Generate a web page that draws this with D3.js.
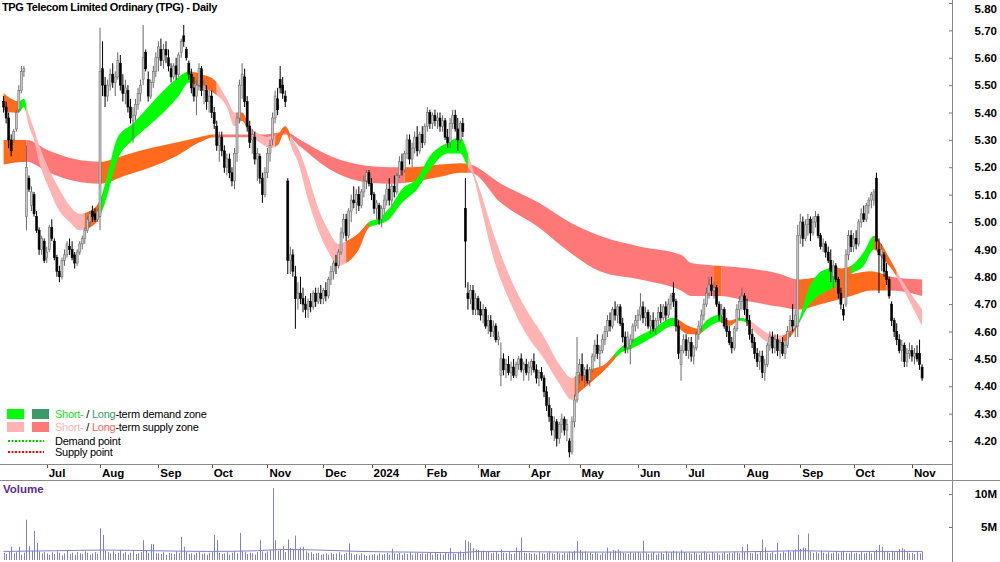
<!DOCTYPE html>
<html>
<head>
<meta charset="utf-8">
<script src="https://cdn.jsdelivr.net/npm/d3@7"></script>
<style>
body { margin: 0; background: #fff; }
svg { display: block; font-family: "Liberation Sans", Arial, sans-serif; }
</style>
</head>
<body>
<div id="chart"></div>
<script>
// trading calendar
const startDate = "2023-06-07";
const endDate = "2024-11-07";
const holidays = ["2023-06-12", "2023-12-25", "2023-12-26", "2024-01-01", "2024-01-26",
  "2024-03-29", "2024-04-01", "2024-04-25", "2024-06-10"];

// daily prices, one row per month
const opens = [
  5.44,5.42,5.38,5.30,5.30,5.34,5.41,5.48,5.55,5.02,5.16,5.06,5.10,5.02,4.97,4.90,4.93,
  4.87,4.90,4.98,4.93,4.87,4.82,4.80,4.86,4.88,4.91,4.90,4.88,4.85,4.89,4.92,4.94,4.97,5.00,5.04,5.03,5.01,
  5.02,5.56,5.50,5.46,5.50,5.54,5.51,5.53,5.58,5.50,5.47,5.48,5.42,5.37,5.39,5.43,5.47,5.52,5.62,5.52,5.46,5.51,5.55,
  5.60,5.63,5.59,5.63,5.60,5.56,5.53,5.57,5.54,5.62,5.68,5.63,5.58,5.54,5.49,5.46,5.50,5.56,5.48,5.48,5.44,
  5.46,5.40,5.35,5.28,5.31,5.26,5.20,5.23,5.18,5.15,5.25,5.38,5.50,5.53,5.44,5.35,5.30,5.31,5.23,5.24,5.16,5.10,
  5.18,5.25,5.30,5.38,5.45,5.52,5.50,5.46,5.15,4.86,4.88,4.80,4.72,4.74,4.72,4.70,4.68,4.71,4.69,4.74,4.71,4.74,
  4.72,4.75,4.73,4.79,4.82,4.85,4.84,4.89,4.96,5.01,4.95,5.04,5.08,5.07,5.10,5.06,5.11,5.15,5.18,
  5.14,5.10,5.05,5.06,5.01,5.05,5.08,5.12,5.08,5.13,5.11,5.17,5.22,5.19,5.25,5.30,5.23,5.27,5.31,5.26,5.32,
  5.29,5.35,5.40,5.36,5.39,5.37,5.38,5.35,5.37,5.31,5.29,5.36,5.39,5.34,5.30,5.36,5.05,4.74,4.72,4.75,4.68,
  4.72,4.68,4.66,4.68,4.62,4.64,4.60,4.62,4.57,4.44,4.50,4.46,4.48,4.45,4.47,4.44,4.48,4.50,4.46,4.48,
  4.45,4.47,4.49,4.46,4.43,4.45,4.43,4.38,4.33,4.29,4.24,4.27,4.21,4.26,4.28,4.24,4.20,4.16,4.27,4.35,
  4.45,4.48,4.44,4.46,4.42,4.46,4.51,4.55,4.52,4.53,4.57,4.60,4.64,4.62,4.68,4.66,4.69,4.63,4.58,4.54,4.55,4.57,4.62,
  4.64,4.66,4.69,4.65,4.67,4.62,4.64,4.61,4.64,4.67,4.65,4.69,4.66,4.70,4.74,4.71,4.62,4.48,4.53,
  4.57,4.53,4.56,4.51,4.54,4.59,4.62,4.66,4.70,4.74,4.77,4.75,4.76,4.70,4.66,4.68,4.62,4.60,4.56,4.54,4.61,4.68,4.71,
  4.73,4.68,4.64,4.59,4.56,4.52,4.49,4.51,4.45,4.48,4.55,4.58,4.54,4.57,4.53,4.56,4.52,4.55,4.60,4.64,4.62,4.62,
  4.95,5.00,4.94,4.99,5.01,4.96,5.00,5.02,4.95,4.91,4.92,4.89,4.86,4.80,4.84,4.79,4.74,4.68,4.70,4.88,4.95,
  4.91,4.94,4.92,5.00,5.03,5.01,5.06,5.08,5.08,5.16,4.90,4.88,4.88,4.82,4.79,4.70,4.64,4.60,4.57,4.53,4.55,4.49,4.52,
  4.53,4.51,4.52,4.52,4.47
];
const highs = [
  5.46,5.44,5.40,5.32,5.34,5.41,5.50,5.57,5.57,5.28,5.17,5.13,5.11,5.04,4.98,4.95,4.94,
  4.91,4.99,5.01,4.94,4.88,4.84,4.87,4.90,4.93,4.94,4.93,4.89,4.90,4.93,4.95,4.98,5.02,5.04,5.06,5.05,5.05,
  5.71,5.66,5.53,5.52,5.56,5.58,5.55,5.62,5.61,5.54,5.52,5.50,5.45,5.42,5.45,5.49,5.52,5.72,5.63,5.55,5.52,5.57,5.62,
  5.66,5.67,5.65,5.66,5.63,5.58,5.58,5.60,5.62,5.67,5.72,5.64,5.59,5.56,5.53,5.52,5.58,5.57,5.52,5.50,5.48,
  5.48,5.42,5.37,5.33,5.33,5.28,5.25,5.25,5.20,5.27,5.40,5.52,5.58,5.56,5.46,5.37,5.34,5.33,5.27,5.25,5.18,5.20,
  5.27,5.30,5.40,5.48,5.49,5.57,5.53,5.48,5.16,4.91,4.90,4.84,4.78,4.80,4.76,4.73,4.72,4.74,4.75,4.76,4.76,4.77,
  4.76,4.78,4.80,4.84,4.86,4.88,4.90,4.98,5.03,5.03,5.05,5.10,5.13,5.12,5.13,5.12,5.17,5.19,5.19,
  5.16,5.11,5.08,5.07,5.06,5.10,5.14,5.16,5.14,5.17,5.18,5.24,5.25,5.26,5.32,5.32,5.29,5.33,5.35,5.33,5.35,
  5.36,5.42,5.41,5.40,5.41,5.40,5.40,5.39,5.38,5.34,5.38,5.41,5.41,5.38,5.37,5.38,5.16,4.78,4.77,4.77,4.74,
  4.73,4.71,4.70,4.69,4.66,4.66,4.64,4.63,4.60,4.56,4.52,4.50,4.51,4.49,4.50,4.49,4.51,4.52,4.49,4.50,
  4.49,4.50,4.52,4.48,4.46,4.47,4.44,4.40,4.36,4.32,4.29,4.28,4.27,4.30,4.29,4.28,4.21,4.29,4.37,4.58,
  4.50,4.52,4.47,4.48,4.47,4.52,4.57,4.59,4.55,4.59,4.62,4.66,4.67,4.69,4.71,4.70,4.70,4.65,4.60,4.60,4.59,4.63,4.66,
  4.68,4.74,4.71,4.69,4.68,4.66,4.67,4.65,4.69,4.70,4.70,4.71,4.72,4.74,4.78,4.72,4.64,4.55,4.59,
  4.59,4.58,4.58,4.55,4.60,4.64,4.68,4.72,4.76,4.80,4.80,4.78,4.77,4.71,4.70,4.69,4.65,4.62,4.58,4.62,4.70,4.73,4.76,
  4.74,4.72,4.66,4.61,4.58,4.54,4.53,4.53,4.50,4.56,4.60,4.60,4.59,4.59,4.57,4.58,4.57,4.62,4.66,4.70,4.68,4.99,
  5.03,5.02,5.01,5.03,5.02,5.02,5.04,5.03,4.96,4.94,4.93,4.91,4.90,4.86,4.85,4.80,4.76,4.70,4.90,4.97,4.97,
  4.96,4.97,5.01,5.05,5.06,5.07,5.09,5.11,5.12,5.18,4.94,4.92,4.89,4.85,4.80,4.71,4.65,4.63,4.59,4.57,4.56,4.54,4.56,
  4.55,4.54,4.55,4.57,4.48
];
const lows = [
  5.40,5.36,5.27,5.24,5.29,5.33,5.40,5.47,5.53,4.97,5.11,5.04,5.02,4.96,4.88,4.88,4.85,
  4.85,4.89,4.93,4.86,4.80,4.78,4.79,4.84,4.87,4.88,4.86,4.83,4.84,4.88,4.90,4.92,4.96,4.98,5.00,5.00,5.00,
  4.97,5.46,5.42,5.44,5.48,5.49,5.46,5.52,5.48,5.44,5.43,5.40,5.36,5.29,5.37,5.41,5.44,5.50,5.55,5.44,5.45,5.49,5.53,
  5.55,5.57,5.56,5.58,5.55,5.51,5.52,5.52,5.53,5.60,5.64,5.59,5.52,5.47,5.44,5.39,5.48,5.46,5.43,5.41,5.40,
  5.38,5.34,5.26,5.22,5.24,5.18,5.17,5.16,5.13,5.12,5.22,5.36,5.45,5.42,5.33,5.27,5.25,5.21,5.15,5.14,5.07,5.09,
  5.16,5.22,5.28,5.36,5.39,5.47,5.45,5.42,4.81,4.81,4.80,4.61,4.68,4.70,4.67,4.65,4.65,4.67,4.68,4.69,4.70,4.70,
  4.70,4.71,4.72,4.77,4.79,4.81,4.83,4.88,4.94,4.93,4.94,5.00,5.05,5.03,5.04,5.05,5.09,5.12,5.13,
  5.08,5.03,5.01,4.99,4.98,5.03,5.06,5.06,5.06,5.09,5.10,5.16,5.17,5.18,5.23,5.21,5.20,5.25,5.24,5.25,5.27,
  5.28,5.33,5.34,5.34,5.35,5.34,5.33,5.33,5.30,5.27,5.27,5.34,5.33,5.26,5.29,5.31,4.76,4.68,4.70,4.66,4.66,
  4.66,4.64,4.63,4.61,4.59,4.58,4.58,4.56,4.55,4.40,4.44,4.43,4.44,4.42,4.43,4.43,4.46,4.45,4.42,4.44,
  4.42,4.44,4.45,4.41,4.40,4.42,4.36,4.31,4.27,4.22,4.20,4.18,4.19,4.23,4.22,4.20,4.14,4.15,4.25,4.34,
  4.41,4.42,4.40,4.41,4.40,4.45,4.49,4.50,4.47,4.52,4.55,4.58,4.60,4.61,4.64,4.63,4.62,4.56,4.52,4.52,4.48,4.56,4.60,
  4.61,4.64,4.63,4.62,4.61,4.59,4.60,4.59,4.62,4.63,4.64,4.64,4.65,4.68,4.69,4.60,4.50,4.42,4.52,
  4.51,4.50,4.49,4.48,4.53,4.57,4.60,4.64,4.69,4.72,4.73,4.72,4.69,4.64,4.63,4.61,4.58,4.55,4.52,4.53,4.60,4.64,4.68,
  4.66,4.62,4.57,4.54,4.50,4.47,4.46,4.43,4.42,4.47,4.53,4.52,4.52,4.51,4.50,4.51,4.50,4.54,4.58,4.60,4.58,4.58,
  4.92,4.91,4.93,4.95,4.93,4.95,4.98,4.94,4.90,4.89,4.87,4.85,4.78,4.76,4.78,4.72,4.68,4.64,4.69,4.86,4.89,
  4.89,4.90,4.91,4.98,5.00,5.00,5.03,5.05,5.06,4.90,4.74,4.82,4.80,4.77,4.72,4.62,4.58,4.55,4.52,4.49,4.47,4.47,4.50,
  4.49,4.48,4.49,4.46,4.42
];
const closes = [
  5.42,5.38,5.30,5.26,5.33,5.40,5.48,5.55,5.56,5.20,5.12,5.11,5.03,4.97,4.90,4.94,4.86,
  4.89,4.98,4.94,4.87,4.82,4.80,4.86,4.88,4.92,4.90,4.87,4.85,4.89,4.92,4.94,4.97,5.01,5.03,5.02,5.01,5.04,
  5.55,5.50,5.46,5.50,5.54,5.51,5.53,5.59,5.50,5.47,5.49,5.42,5.38,5.39,5.43,5.47,5.50,5.60,5.56,5.46,5.51,5.55,5.60,
  5.64,5.59,5.63,5.61,5.57,5.53,5.57,5.54,5.61,5.66,5.66,5.60,5.54,5.49,5.46,5.50,5.56,5.48,5.50,5.44,5.46,
  5.40,5.36,5.28,5.31,5.26,5.20,5.23,5.18,5.15,5.25,5.38,5.50,5.54,5.44,5.35,5.29,5.32,5.23,5.25,5.16,5.10,5.18,
  5.25,5.28,5.38,5.46,5.41,5.49,5.47,5.44,4.86,4.88,4.82,4.72,4.74,4.72,4.70,4.68,4.71,4.69,4.74,4.71,4.74,4.72,
  4.75,4.73,4.79,4.82,4.85,4.84,4.89,4.96,5.01,4.95,5.04,5.08,5.07,5.10,5.06,5.11,5.15,5.18,5.14,
  5.10,5.05,5.07,5.01,5.05,5.08,5.12,5.08,5.13,5.11,5.17,5.22,5.19,5.25,5.30,5.23,5.27,5.31,5.26,5.32,5.29,
  5.35,5.40,5.36,5.39,5.37,5.38,5.35,5.37,5.31,5.29,5.36,5.39,5.34,5.30,5.36,5.33,4.93,4.72,4.75,4.68,4.72,
  4.68,4.66,4.68,4.62,4.64,4.60,4.62,4.57,4.58,4.50,4.46,4.48,4.45,4.47,4.44,4.48,4.50,4.46,4.48,4.45,
  4.47,4.49,4.46,4.43,4.45,4.43,4.38,4.33,4.29,4.24,4.27,4.21,4.26,4.28,4.24,4.26,4.16,4.27,4.35,4.45,
  4.48,4.44,4.46,4.42,4.46,4.51,4.55,4.52,4.53,4.57,4.60,4.64,4.62,4.68,4.66,4.69,4.63,4.58,4.54,4.58,4.57,4.62,4.64,
  4.66,4.69,4.65,4.67,4.62,4.64,4.61,4.64,4.67,4.65,4.69,4.66,4.70,4.73,4.71,4.62,4.52,4.53,4.57,
  4.53,4.56,4.51,4.54,4.59,4.62,4.66,4.70,4.74,4.77,4.75,4.76,4.70,4.66,4.68,4.62,4.60,4.56,4.54,4.61,4.68,4.71,4.73,
  4.68,4.64,4.59,4.56,4.52,4.49,4.51,4.45,4.48,4.55,4.58,4.54,4.57,4.53,4.56,4.52,4.55,4.60,4.64,4.62,4.66,4.95,
  5.00,4.94,4.99,5.01,4.96,5.00,5.02,4.95,4.91,4.92,4.89,4.86,4.82,4.84,4.79,4.74,4.70,4.66,4.88,4.95,4.91,
  4.94,4.92,5.00,5.03,5.01,5.06,5.08,5.10,5.11,4.93,4.88,4.90,4.82,4.79,4.73,4.64,4.60,4.57,4.53,4.55,4.49,4.52,4.53,
  4.51,4.52,4.50,4.48,4.43
];
// volume in millions
const volumes = [
  1.1,0.9,1.3,2.0,1.0,1.2,2.0,0.8,1.1,6.1,2.1,1.4,4.4,2.6,1.3,1.0,1.2,
  1.0,0.8,1.2,0.9,1.3,1.1,0.7,1.0,1.4,0.9,1.1,0.8,1.2,1.0,0.9,1.3,1.1,0.8,1.0,1.2,0.9,
  4.8,3.8,1.4,1.2,1.0,1.3,0.9,1.1,1.5,1.0,1.2,0.8,1.1,1.3,0.9,1.0,1.2,3.0,1.4,1.1,2.4,2.4,1.0,
  1.0,0.9,1.2,0.8,1.1,1.0,0.9,1.3,1.1,3.5,2.0,1.2,0.9,1.0,0.8,1.1,1.2,0.9,1.0,0.8,1.1,
  1.2,3.8,3.0,1.1,0.9,1.0,1.2,0.8,1.1,1.3,1.0,4.1,1.4,1.2,0.9,1.1,1.0,0.8,1.2,3.0,1.3,1.1,
  1.3,1.5,10.9,3.0,1.4,1.6,2.1,1.2,3.1,1.8,1.5,3.7,1.6,1.9,2.0,1.3,1.1,1.2,0.9,1.0,1.1,0.8,
  0.9,1.0,0.8,1.1,0.9,1.0,1.2,0.8,0.9,1.1,2.5,1.0,0.8,0.9,0.7,1.0,0.8,0.6,0.7,
  0.8,0.9,0.7,1.0,0.8,0.9,1.1,0.8,1.7,1.0,0.9,1.1,0.8,1.0,0.9,1.2,0.8,1.0,1.1,0.9,1.0,
  0.9,1.0,1.2,0.8,1.1,0.9,1.0,0.8,1.2,1.0,1.8,1.0,0.9,1.1,1.3,1.0,3.0,2.8,2.6,1.8,1.6,
  1.5,1.3,1.4,1.2,1.3,1.0,1.1,1.2,0.9,1.6,1.1,1.0,1.2,0.9,1.0,1.9,1.2,3.4,1.1,1.0,
  1.1,0.9,1.0,0.8,1.2,1.0,0.9,1.1,1.3,1.0,0.9,1.2,1.0,0.8,1.1,1.0,1.3,1.2,1.4,2.9,
  1.5,1.2,1.3,1.0,1.1,0.9,1.2,1.0,0.8,1.1,1.0,1.9,1.2,1.5,1.4,1.6,1.3,1.1,1.0,0.9,1.2,1.0,1.1,
  1.2,1.0,2.9,1.1,0.9,1.0,1.2,0.8,1.0,1.1,0.9,1.3,1.0,1.2,1.4,1.3,1.1,1.5,1.2,
  1.0,1.1,0.9,1.2,1.0,0.8,1.1,1.3,1.0,0.9,1.2,1.0,1.1,0.8,1.0,1.2,0.9,1.1,1.0,1.3,1.1,1.0,2.0,
  1.2,2.4,1.1,1.0,1.3,0.9,1.2,3.1,1.9,1.1,1.0,1.2,0.9,2.6,1.0,1.3,1.1,1.5,1.2,1.4,1.6,3.8,
  1.7,1.9,1.8,4.0,1.3,1.1,1.2,1.0,1.4,1.1,0.9,1.2,1.0,1.1,1.3,1.0,1.2,1.4,1.1,1.0,1.2,
  1.0,1.1,0.9,1.2,1.0,1.1,1.3,1.0,1.2,1.5,2.3,2.0,1.3,1.2,1.1,1.4,1.2,1.3,1.7,1.8,1.6,1.2,1.0,
  1.1,0.9,1.2,1.0,1.3
];
// volume average line (bar index, millions)
const volAvgIdx = [0, 20, 40, 60, 80, 100, 110, 125, 140, 160, 180, 187, 200, 220, 240, 260, 280, 300, 315, 330, 345, 362];
const volAvg = [1.3, 1.4, 1.5, 1.4, 1.3, 1.4, 1.6, 1.5, 1.3, 1.2, 1.1, 1.3, 1.3, 1.2, 1.2, 1.2, 1.2, 1.3, 1.4, 1.3, 1.3, 1.3];

// short-term band edges, sampled at bar index
const shortIdx = [0,3,6,8,10,12,14,18,22,26,30,34,38,40,45,51,57,63,69,73,78,83,88,91,94,97,101,105,108,111,114,116,120,124,128,132,135,140,144,147,152,157,163,168,175,180,183,185,188,193,200,206,213,219,224,226,231,237,240,243,248,256,264,270,274,277,282,286,290,293,297,302,306,310,313,317,321,325,327,330,334,339,343,346,349,352,356,362];
const shortTop = [5.47,5.45,5.44,5.45,5.39,5.34,5.28,5.19,5.12,5.06,5.03,5.04,5.08,5.14,5.31,5.36,5.42,5.48,5.53,5.55,5.54,5.52,5.45,5.40,5.40,5.35,5.32,5.31,5.32,5.35,5.30,5.27,5.17,5.05,4.97,4.92,4.93,4.96,5.00,5.01,5.05,5.12,5.16,5.24,5.29,5.31,5.25,5.19,5.11,4.96,4.79,4.68,4.58,4.48,4.43,4.44,4.46,4.48,4.51,4.54,4.57,4.61,4.65,4.62,4.61,4.64,4.66,4.64,4.65,4.645,4.62,4.59,4.585,4.60,4.63,4.75,4.81,4.83,4.84,4.83,4.84,4.89,4.95,4.92,4.87,4.82,4.76,4.68];
const shortBot = [5.41,5.40,5.40,5.42,5.35,5.30,5.22,5.12,5.04,5.00,4.97,4.98,5.02,5.07,5.23,5.30,5.35,5.40,5.46,5.51,5.49,5.47,5.42,5.35,5.37,5.32,5.29,5.27,5.28,5.33,5.26,5.22,5.08,4.97,4.89,4.84,4.85,4.90,4.98,4.99,5.01,5.07,5.12,5.19,5.25,5.25,5.20,5.17,5.06,4.87,4.70,4.59,4.50,4.41,4.35,4.37,4.41,4.46,4.49,4.52,4.54,4.58,4.62,4.59,4.59,4.61,4.635,4.62,4.64,4.63,4.59,4.56,4.56,4.58,4.62,4.69,4.73,4.75,4.76,4.78,4.81,4.84,4.90,4.87,4.84,4.80,4.73,4.62];
// short-term band state: [from, to, zone]
const shortZones = [[0,6,"neutral"],[6,9,"demand"],[9,32,"supply"],[32,38,"neutral"],[38,74,"demand"],[74,84,"neutral"],[84,93,"supply"],[93,96,"neutral"],[96,107,"supply"],[107,113,"neutral"],[113,135,"supply"],[135,144,"neutral"],[144,183,"demand"],[183,225,"supply"],[225,241,"neutral"],[241,265,"demand"],[265,275,"neutral"],[275,283,"demand"],[283,289,"neutral"],[289,293,"demand"],[293,294,"neutral"],[294,307,"supply"],[307,313,"neutral"],[313,328,"demand"],[328,334,"neutral"],[334,343,"demand"],[343,352,"neutral"],[352,362,"supply"]];

// long-term band edges
const longIdx = [0,9,18,28,38,48,58,68,77,83,93,103,111,117,129,140,152,160,172,180,184,196,211,223,235,251,267,271,282,294,306,313,322,334,342,350,362];
const longTop = [5.30,5.30,5.26,5.23,5.22,5.245,5.27,5.29,5.31,5.32,5.32,5.32,5.33,5.30,5.24,5.21,5.20,5.20,5.21,5.215,5.21,5.14,5.07,5.00,4.95,4.91,4.88,4.85,4.84,4.83,4.81,4.79,4.80,4.81,4.82,4.80,4.79];
const longBot = [5.21,5.22,5.18,5.15,5.14,5.17,5.20,5.24,5.29,5.31,5.31,5.31,5.32,5.275,5.19,5.15,5.14,5.145,5.165,5.18,5.18,5.07,4.98,4.89,4.82,4.79,4.75,4.73,4.73,4.71,4.69,4.68,4.70,4.73,4.75,4.75,4.73];
const longZones = [[0,9,"neutral"],[9,38,"supply"],[38,83,"neutral"],[83,158,"supply"],[158,183,"neutral"],[183,280,"supply"],[280,283,"neutral"],[283,313,"supply"],[313,348,"neutral"],[348,362,"supply"]];

const priceTicks = [4.2,4.3,4.4,4.5,4.6,4.7,4.8,4.9,5.0,5.1,5.2,5.3,5.4,5.5,5.6,5.7,5.8];
const volTicks = [5, 10];

const shortColor = { demand: "#00ff00", supply: "#ffb3b3", neutral: "#ff6a1c" };
const longColor = { demand: "#3a9a6a", supply: "#ff7878", neutral: "#ff6a1c" };

const W = 1000, H = 562, axisX = 952;

const parse = d3.utcParse("%Y-%m-%d");
const fmt = d3.utcFormat("%Y-%m-%d");
const dates = d3.utcDays(parse(startDate), d3.utcDay.offset(parse(endDate), 1))
  .filter(d => d.getUTCDay() % 6 !== 0 && !holidays.includes(fmt(d)));

const x = d3.scaleLinear().domain([0, closes.length - 1]).range([3.6, 922.1]);
const y = d3.scaleLinear().domain([4.2, 5.8]).range([441, 3]);
const yv = d3.scaleLinear().domain([0, 10]).range([560, 494]);

const svg = d3.select("#chart").append("svg")
  .attr("width", W).attr("height", H);

svg.append("rect").attr("width", W).attr("height", H).attr("fill", "#fff");

const defs = svg.append("defs");

// bands, one clip per zone segment
function drawBand(name, idx, top, bot, zones, colors) {
  const pts = idx.map((d, k) => ({ i: d, t: top[k], b: bot[k] }));
  const area = d3.area()
    .x(d => x(d.i)).y0(d => y(d.b)).y1(d => y(d.t))
    .curve(d3.curveMonotoneX);
  const g = svg.append("g");
  zones.forEach((z, k) => {
    const id = name + "clip" + k;
    const x0 = k === 0 ? 0 : x(z[0]);
    const x1 = k === zones.length - 1 ? x(z[1]) + 1 : x(z[1]);
    defs.append("clipPath").attr("id", id)
      .append("rect").attr("x", x0).attr("y", 0).attr("width", x1 - x0).attr("height", 462);
    g.append("path").datum(pts)
      .attr("d", area)
      .attr("fill", colors[z[2]])
      .attr("clip-path", "url(#" + id + ")");
  });
}
drawBand("long", longIdx, longTop, longBot, longZones, longColor);
drawBand("short", shortIdx, shortTop, shortBot, shortZones, shortColor);

// candles
const bars = closes.map((c, i) => ({ i: i, o: opens[i], h: highs[i], l: lows[i], c: c }));
const candles = svg.append("g");
candles.selectAll("line").data(bars).join("line")
  .attr("x1", d => x(d.i)).attr("x2", d => x(d.i))
  .attr("y1", d => y(d.h)).attr("y2", d => y(d.l))
  .attr("stroke", d => d.c >= d.o ? "#6a6a6a" : "#000")
  .attr("stroke-width", 1);
candles.selectAll("rect").data(bars).join("rect")
  .attr("x", d => x(d.i) - 1)
  .attr("width", 2)
  .attr("y", d => y(Math.max(d.o, d.c)))
  .attr("height", d => Math.max(1, Math.abs(y(d.o) - y(d.c))))
  .attr("fill", d => d.c >= d.o ? "#c8c8c8" : "#000")
  .attr("stroke", d => d.c >= d.o ? "#707070" : "#000")
  .attr("stroke-width", 0.6);

// date band
svg.append("line").attr("x1", 0).attr("x2", axisX).attr("y1", 464.5).attr("y2", 464.5)
  .attr("stroke", "#8a8a8a");
svg.append("line").attr("x1", 0).attr("x2", W).attr("y1", 480.5).attr("y2", 480.5)
  .attr("stroke", "#8a8a8a");
const monthStarts = dates.map((d, i) => ({ d: d, i: i }))
  .filter((o, k) => k > 0 && o.d.getUTCMonth() !== dates[k - 1].getUTCMonth());
const mg = svg.append("g");
mg.selectAll("line").data(monthStarts).join("line")
  .attr("x1", d => Math.round(x(d.i)) + 0.5).attr("x2", d => Math.round(x(d.i)) + 0.5)
  .attr("y1", 465).attr("y2", 468).attr("stroke", "#555");
mg.selectAll("text").data(monthStarts).join("text")
  .attr("x", d => x(d.i) + 2).attr("y", 477)
  .attr("font-size", 11.5).attr("font-weight", "bold").attr("fill", "#000")
  .text(d => d.d.getUTCMonth() === 0 ? d3.utcFormat("%Y")(d.d) : d3.utcFormat("%b")(d.d));

// price axis
const pAxis = svg.append("g").attr("transform", "translate(" + axisX + ",0)")
  .call(d3.axisRight(y).tickValues(priceTicks).tickFormat(d3.format(".2f"))
    .tickSizeInner(-3).tickSizeOuter(0));
pAxis.select(".domain").remove();
pAxis.selectAll(".tick line").attr("stroke", "#777");
pAxis.selectAll(".tick text").attr("x", 45).attr("text-anchor", "end")
  .attr("font-size", 11.5).attr("font-weight", "bold").attr("font-family", "Liberation Sans, Arial, sans-serif")
  .attr("fill", "#000")
  .attr("dy", d => d === 5.8 ? "0.85em" : "0.32em");

// volume axis
const vAxis = svg.append("g").attr("transform", "translate(" + axisX + ",0)")
  .call(d3.axisRight(yv).tickValues(volTicks).tickFormat(d => d + "M")
    .tickSizeInner(-3).tickSizeOuter(0));
vAxis.select(".domain").remove();
vAxis.selectAll(".tick line").attr("stroke", "#777");
vAxis.selectAll(".tick text").attr("x", 45).attr("text-anchor", "end")
  .attr("font-size", 11.5).attr("font-weight", "bold").attr("font-family", "Liberation Sans, Arial, sans-serif")
  .attr("fill", "#000");

svg.append("line").attr("x1", axisX + 0.5).attr("x2", axisX + 0.5).attr("y1", 0).attr("y2", H)
  .attr("stroke", "#8a8a8a");

// volume bars
const vol = svg.append("g");
vol.selectAll("line").data(volumes).join("line")
  .attr("x1", (d, i) => Math.round(x(i)) + 0.5).attr("x2", (d, i) => Math.round(x(i)) + 0.5)
  .attr("y1", yv(0)).attr("y2", d => yv(d))
  .attr("stroke", "#8080d0").attr("stroke-width", 1);
vol.append("path")
  .datum(volAvgIdx.map((d, k) => [d, volAvg[k]]))
  .attr("d", d3.line().x(d => x(d[0])).y(d => yv(d[1])).curve(d3.curveMonotoneX))
  .attr("fill", "none").attr("stroke", "#8080d0").attr("stroke-width", 1);
svg.append("text").attr("x", 3).attr("y", 493)
  .attr("font-size", 11.5).attr("font-weight", "bold").attr("fill", "#5b2d8e")
  .text("Volume");

// title
svg.append("text").attr("x", 2).attr("y", 11)
  .attr("font-size", 11).attr("font-weight", "bold").attr("fill", "#000")
  .attr("letter-spacing", -0.35)
  .text("TPG Telecom Limited Ordinary (TPG) - Daily");

// legend
const lg = svg.append("g").attr("font-size", 11).attr("letter-spacing", -0.25);
lg.append("rect").attr("x", 7).attr("y", 409).attr("width", 17).attr("height", 10).attr("fill", shortColor.demand);
lg.append("rect").attr("x", 32).attr("y", 409).attr("width", 17).attr("height", 10).attr("fill", longColor.demand);
lg.append("rect").attr("x", 7).attr("y", 422).attr("width", 17).attr("height", 10).attr("fill", shortColor.supply);
lg.append("rect").attr("x", 32).attr("y", 422).attr("width", 17).attr("height", 10).attr("fill", longColor.supply);
const t1 = lg.append("text").attr("x", 55).attr("y", 418);
t1.append("tspan").attr("fill", "#22dd22").text("Short-");
t1.append("tspan").attr("fill", "#000").text(" / ");
t1.append("tspan").attr("fill", "#3a9a6a").text("Long");
t1.append("tspan").attr("fill", "#000").text("-term demand zone");
const t2 = lg.append("text").attr("x", 55).attr("y", 431);
t2.append("tspan").attr("fill", "#ffb3b3").text("Short-");
t2.append("tspan").attr("fill", "#000").text(" / ");
t2.append("tspan").attr("fill", "#ff6060").text("Long");
t2.append("tspan").attr("fill", "#000").text("-term supply zone");
lg.append("line").attr("x1", 8).attr("x2", 44).attr("y1", 441).attr("y2", 441)
  .attr("stroke", "#00cc00").attr("stroke-width", 2).attr("stroke-dasharray", "2,1.5");
lg.append("text").attr("x", 55).attr("y", 445).attr("fill", "#000").text("Demand point");
lg.append("line").attr("x1", 8).attr("x2", 44).attr("y1", 452).attr("y2", 452)
  .attr("stroke", "#ff0000").attr("stroke-width", 2).attr("stroke-dasharray", "2,1.5");
lg.append("text").attr("x", 55).attr("y", 456).attr("fill", "#000").text("Supply point");
</script>
</body>
</html>
